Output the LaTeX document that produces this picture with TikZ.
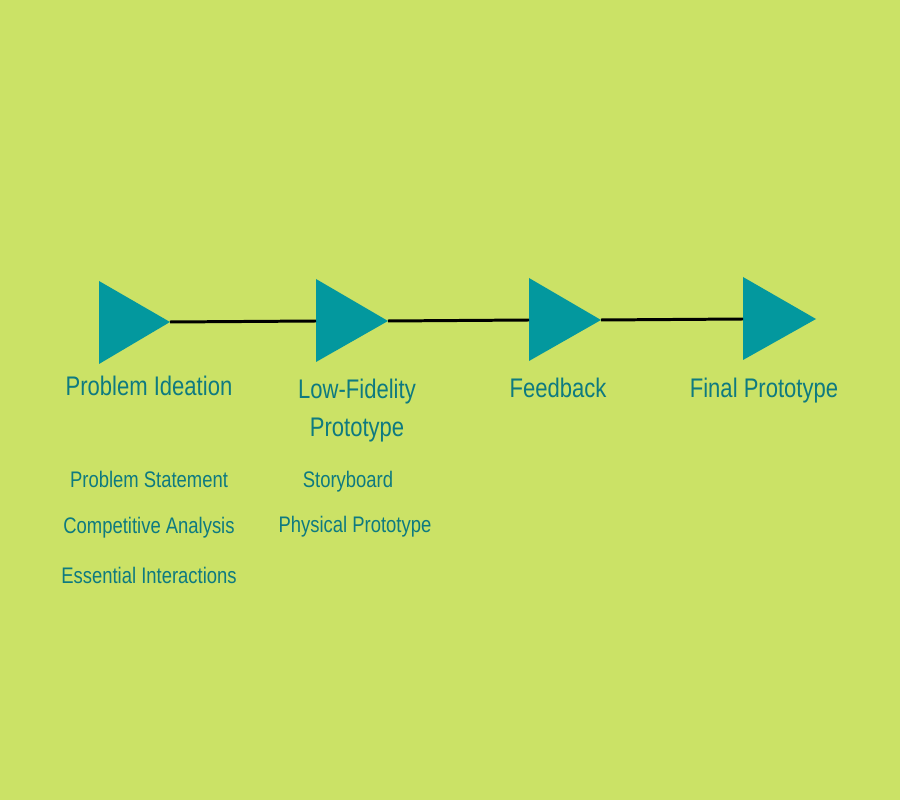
\documentclass[tikz,border=0pt]{standalone}
\usepackage{fontspec}
\setmainfont{Liberation Sans}[FakeStretch=0.82]
\usepackage{xcolor}
\usetikzlibrary{positioning}

\definecolor{limebg}{RGB}{203,226,102}
\definecolor{tealfill}{RGB}{3,152,158}
\definecolor{tealtext}{RGB}{14,122,128}

\tikzset{
  stage/.style={anchor=base,inner sep=0pt,text=tealtext,align=center,font=\fontsize{15.3}{22}\selectfont},
  task/.style={anchor=base,inner sep=0pt,text=tealtext,font=\fontsize{12.8}{15}\selectfont},
  link/.style={black,line width=1.7pt}
}

\begin{document}
\begin{tikzpicture}[x=0.02cm,y=-0.02cm]
% Background
\fill[limebg] (0,0) rectangle (900,800);
\useasboundingbox (0,0) rectangle (900,800);

% Stage markers (left x / top y / bottom y / tip x / tip y)
\foreach \n/\lx/\topy/\boty/\tipx/\tipy in {1/99/281/364/170/322, 2/316/279/362/388/321, 3/529/278/361/601/320, 4/743/277/360/816/319}{
  \fill[tealfill] (\lx,\topy) -- (\tipx,\tipy) -- (\lx,\boty) -- cycle;
  \coordinate (tip\n) at (\tipx,\tipy);
  \coordinate (back\n) at (\lx,\tipy);
}

% Connectors
\draw[link] (tip1) -- (back2);
\draw[link] (tip2) -- (back3);
\draw[link] (tip3) -- (back4);

% Stage labels
\node[stage] (ideation) at (149,396) {Problem Ideation};
\node[stage] (lofi) at (357,437) {Low-Fidelity\\Prototype};
\node[stage] (feedback) at (558,398) {Feedback};
\node[stage] (final) at (764,398) {Final Prototype};

% Tasks
\node[task] (statement) at (149,488) {Problem Statement};
\node[task] (competitive) at (149,534) {Competitive Analysis};
\node[task] (interactions) at (149,583) {Essential Interactions};
\node[task] (storyboard) at (348,488) {Storyboard};
\node[task] (physical) at (355,533) {Physical Prototype};
\end{tikzpicture}
\end{document}
